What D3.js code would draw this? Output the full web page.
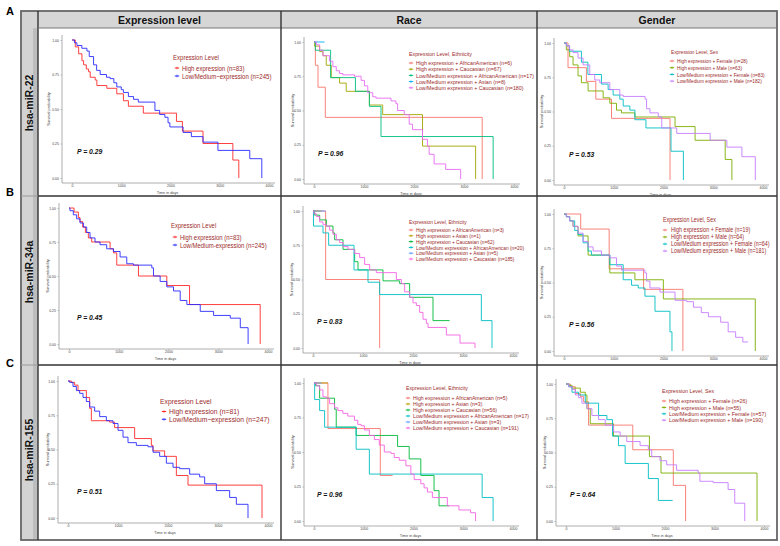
<!DOCTYPE html>
<html><head><meta charset="utf-8">
<script src="https://cdn.jsdelivr.net/npm/d3@7"></script>
<style>body{margin:0;background:#fff}svg{display:block}</style>
</head><body>
<script>
// ---------------- DATA ----------------
const colLabels = ["Expression level", "Race", "Gender"];
const rowLabels = ["hsa-miR-22", "hsa-miR-34a", "hsa-miR-155"];
const panelLetters = ["A", "B", "C"];
const yTicks = [0, 0.25, 0.5, 0.75, 1];
const xTicks = [0, 1000, 2000, 3000, 4000];
const legendTitles = ["Expression Level", "Expression Level, Ethnicity", "Expression Level, Sex"];
const pValues = [["0.29", "0.96", "0.53"], ["0.45", "0.83", "0.56"], ["0.51", "0.96", "0.64"]];

const a1Groups = ["High expression (n=83)", "Low/Medium\u2212expression (n=245)"];
const a2Groups = ["High expression + AfricanAmerican (n=6)", "High expression + Caucasian (n=67)", "Low/Medium expression + AfricanAmerican (n=17)", "Low/Medium expression + Asian (n=8)", "Low/Medium expression + Caucasian (n=180)"];
const a3Groups = ["High expression + Female (n=28)", "High expression + Male (n=63)", "Low/Medium expression + Female (n=83)", "Low/Medium expression + Male (n=182)"];
const b1Groups = ["High expression (n=83)", "Low/Medium-expression (n=245)"];
const b2Groups = ["High expression + AfricanAmerican (n=3)", "High expression + Asian (n=1)", "High expression + Caucasian (n=62)", "Low/Medium expression + AfricanAmerican (n=20)", "Low/Medium expression + Asian (n=5)", "Low/Medium expression + Caucasian (n=185)"];
const b3Groups = ["High expression + Female (n=19)", "High expression + Male (n=64)", "Low/Medium expression + Female (n=64)", "Low/Medium expression + Male (n=181)"];
const c1Groups = ["High expression (n=81)", "Low/Medium\u2212expression (n=247)"];
const c2Groups = ["High expression + AfricanAmerican (n=5)", "High expression + Asian (n=3)", "High expression + Caucasian (n=56)", "Low/Medium expression + AfricanAmerican (n=17)", "Low/Medium expression + Asian (n=3)", "Low/Medium expression + Caucasian (n=191)"];
const c3Groups = ["High expression + Female (n=26)", "High expression + Male (n=55)", "Low/Medium expression + Female (n=57)", "Low/Medium expression + Male (n=190)"];

// survival step curves: [time in days, survival probability]
const a1High = [[0,1],[67,0.95],[135,0.90],[202,0.85],[236,0.82],[290,0.79],[337,0.77],[370,0.73],[471,0.71],[505,0.67],[707,0.65],[909,0.61],[1044,0.56],[1145,0.52],[1448,0.47],[2121,0.41],[2242,0.34],[2660,0.25],[3266,0.13],[3387,0]];
const a1Low = [[0,1],[50,0.98],[100,0.96],[200,0.94],[303,0.92],[350,0.88],[438,0.82],[500,0.78],[572,0.75],[700,0.73],[774,0.72],[850,0.69],[909,0.66],[1000,0.64],[1044,0.62],[1145,0.59],[1250,0.57],[1347,0.55],[1684,0.49],[1780,0.46],[1886,0.44],[1950,0.40],[1987,0.37],[2256,0.33],[2424,0.30],[2660,0.26],[2963,0.20],[3610,0.14],[3854,0]];

const a2HighAA = [[0,1],[27,0.83],[80,0.67],[226,0.45],[3364,0]];
const a2HighCau = [[0,1],[13,0.97],[113,0.93],[179,0.90],[245,0.83],[345,0.74],[511,0.70],[644,0.64],[1108,0.54],[1374,0.47],[2170,0.24],[3232,0]];
const a2LowAA = [[0,1],[27,0.94],[332,0.74],[829,0.64],[1108,0.53],[1340,0.31],[3583,0]];
const a2LowAsian = [[0,1],[212,1]];
const a2LowCau = [[0,1],[46,0.98],[113,0.94],[179,0.90],[312,0.86],[378,0.82],[445,0.79],[511,0.77],[577,0.76],[810,0.75],[942,0.72],[1009,0.68],[1075,0.63],[1175,0.60],[1241,0.59],[1540,0.57],[1639,0.55],[1672,0.50],[1805,0.47],[1904,0.40],[1971,0.36],[2170,0.29],[2269,0.24],[2303,0.18],[2402,0.11],[2634,0.07],[2933,0]];

const a3HighF = [[0,1],[81,0.82],[450,0.72],[639,0.59],[955,0.45],[2131,0]];
const a3HighM = [[0,1],[47,0.95],[114,0.90],[182,0.84],[282,0.76],[350,0.71],[484,0.65],[787,0.60],[921,0.56],[1055,0.51],[1156,0.49],[1425,0.46],[2232,0.39],[2635,0.29],[3240,0.15],[3375,0]];
const a3LowF = [[0,1],[50,0.98],[110,0.94],[350,0.86],[480,0.77],[753,0.70],[887,0.66],[988,0.62],[1122,0.59],[1190,0.54],[1324,0.51],[1425,0.44],[1647,0.38],[2151,0.21],[2400,0]];
const a3LowM = [[0,1],[47,0.98],[114,0.95],[182,0.93],[282,0.89],[383,0.84],[518,0.77],[618,0.73],[719,0.71],[921,0.66],[1122,0.62],[1190,0.61],[1630,0.59],[1660,0.52],[1728,0.49],[1895,0.46],[1965,0.38],[2266,0.34],[2938,0.29],[3274,0.24],[3576,0.17],[3845,0]];

const b1High = [[0,1],[101,0.97],[188,0.93],[221,0.90],[275,0.86],[330,0.82],[389,0.78],[456,0.75],[826,0.70],[893,0.67],[960,0.58],[1396,0.50],[1966,0.43],[2423,0.29],[3843,0]];
const b1Low = [[0,1],[20,0.98],[87,0.95],[154,0.92],[221,0.89],[289,0.86],[356,0.82],[423,0.78],[523,0.75],[624,0.73],[758,0.70],[893,0.68],[1027,0.64],[1161,0.59],[1295,0.58],[1664,0.56],[1698,0.50],[1832,0.46],[1966,0.42],[2101,0.39],[2235,0.32],[2369,0.29],[2638,0.24],[2906,0.21],[3242,0.19],[3443,0.12],[3600,0]];

const b2HighAA = [[0,1],[253,0.50],[1333,0]];
const b2HighAsian = [[0,1],[167,1]];
const b2HighCau = [[0,1],[33,0.97],[133,0.935],[267,0.89],[400,0.84],[433,0.79],[600,0.72],[833,0.63],[900,0.57],[1400,0.49],[1733,0.47],[1933,0.37],[2400,0.20],[2733,0.20]];
const b2LowAA = [[0,1],[10,0.89],[200,0.84],[313,0.75],[820,0.57],[1100,0.48],[1333,0.39],[3367,0.20],[3580,0]];
const b2LowAsian = [[0,1],[250,1]];
const b2LowCau = [[0,1],[20,0.98],[67,0.96],[133,0.92],[200,0.90],[267,0.89],[333,0.86],[400,0.83],[467,0.79],[533,0.77],[600,0.74],[700,0.72],[833,0.69],[933,0.66],[1033,0.61],[1133,0.57],[1267,0.55],[1667,0.50],[1767,0.47],[1833,0.41],[1933,0.37],[2000,0.33],[2067,0.31],[2133,0.26],[2200,0.21],[2267,0.18],[2300,0.15],[2667,0.095],[2940,0.036],[3240,0]];

const b3HighF = [[0,1],[336,0.89],[908,0.60],[1600,0.45],[2390,0]];
const b3HighM = [[0,1],[47,0.98],[114,0.95],[182,0.91],[282,0.84],[484,0.70],[921,0.57],[1425,0.52],[1997,0.38],[3845,0]];
const b3LowF = [[0,1],[47,0.98],[114,0.95],[215,0.88],[282,0.85],[383,0.79],[484,0.73],[551,0.70],[921,0.63],[1190,0.52],[1358,0.48],[1492,0.46],[1627,0.40],[1829,0.29],[2130,0.14],[2170,0]];
const b3LowM = [[0,1],[47,0.98],[114,0.95],[182,0.91],[282,0.86],[383,0.80],[484,0.76],[585,0.73],[753,0.70],[921,0.68],[1055,0.62],[1156,0.59],[1627,0.57],[1660,0.51],[1728,0.46],[1929,0.43],[2232,0.37],[2467,0.36],[2602,0.32],[2760,0.28],[2903,0.25],[3150,0.21],[3300,0.14],[3450,0.10],[3594,0.066],[3700,0.066]];

const c1High = [[0,1],[67,0.99],[133,0.97],[200,0.93],[367,0.88],[433,0.80],[467,0.71],[833,0.70],[933,0.66],[1333,0.58],[1667,0.53],[1700,0.49],[1933,0.45],[2167,0.31],[2400,0.24],[3880,0]];
const c1Low = [[0,1],[33,0.99],[100,0.96],[167,0.93],[233,0.91],[300,0.88],[367,0.85],[433,0.81],[533,0.78],[633,0.74],[767,0.71],[900,0.69],[1000,0.64],[1100,0.59],[1200,0.55],[1367,0.53],[1600,0.52],[1700,0.48],[1833,0.45],[1967,0.40],[2100,0.37],[2233,0.36],[2433,0.32],[2633,0.30],[2733,0.25],[2967,0.20],[3233,0.15],[3367,0.10],[3600,0]];

const c2HighAA = [[0,1],[280,0.67],[1333,0.33],[1580,0.33]];
const c2HighAsian = [[0,1],[280,1]];
const c2HighCau = [[0,1],[33,0.98],[113,0.89],[413,0.81],[447,0.68],[847,0.62],[1680,0.54],[1913,0.45],[2147,0.33],[2413,0.22],[2513,0.11],[2713,0.11]];
const c2LowAA = [[0,1],[13,0.88],[113,0.80],[213,0.68],[847,0.52],[1113,0.34],[3380,0.17],[3600,0]];
const c2LowAsian = [[0,1],[150,1]];
const c2LowCau = [[0,1],[47,0.98],[113,0.95],[180,0.90],[247,0.89],[313,0.85],[413,0.82],[480,0.80],[580,0.78],[680,0.76],[813,0.73],[880,0.70],[947,0.69],[1013,0.66],[1113,0.62],[1213,0.59],[1313,0.55],[1413,0.50],[1547,0.49],[1613,0.46],[1713,0.44],[1847,0.40],[1947,0.34],[2013,0.30],[2147,0.27],[2213,0.24],[2280,0.21],[2380,0.17],[2680,0.11],[2913,0.08],[3147,0.06],[3247,0]];

const c3HighF = [[0,1],[87,0.98],[188,0.93],[289,0.91],[356,0.87],[456,0.70],[1349,0.52],[2168,0.26],[2416,0]];
const c3HighM = [[0,1],[54,0.99],[121,0.97],[289,0.94],[389,0.92],[423,0.82],[490,0.71],[960,0.62],[1685,0.47],[1919,0.35],[3859,0]];
const c3LowF = [[0,1],[54,0.98],[121,0.94],[255,0.92],[389,0.86],[658,0.77],[826,0.74],[940,0.62],[1060,0.55],[1195,0.42],[1664,0.31],[1866,0.15],[2154,0.15]];
const c3LowM = [[0,1],[54,0.98],[121,0.96],[188,0.92],[255,0.90],[322,0.86],[423,0.82],[523,0.77],[658,0.74],[792,0.70],[960,0.65],[1094,0.62],[1228,0.58],[1497,0.55],[1664,0.52],[1732,0.47],[1899,0.44],[2034,0.41],[2235,0.37],[2671,0.35],[2705,0.29],[2973,0.28],[3275,0.23],[3409,0.13],[3611,0]];

// ---------------- STYLE / LAYOUT ----------------
const pal2 = ["#ff2b2b", "#2b2bff"];
const pal4 = ["#F8766D", "#7CAE00", "#00BFC4", "#C77CFF"];
const pal5 = ["#F8766D", "#A3A500", "#00BF7D", "#00B0F6", "#E76BF3"];
const pal6 = ["#F8766D", "#B79F00", "#00BA38", "#00BFC4", "#619CFF", "#F564E3"];
const FONT = "'Liberation Sans', Arial, sans-serif";
const colX = [38, 281, 537, 777];
const rowY = [28, 196, 365, 540];
const headTop = 11, stripLeft = 21;
const stripCenters = [103, 272, 450];
const letterY = [11, 192, 363];

const panels = [
  {r:0,c:0,curves:[a1High,a1Low],groups:a1Groups,pal:pal2,geo:{x0:72,x4:269,y1:40,y0:178},lg:{tx:173,ty:57,iy:68,dy:8,mx:177,x:182,fs:7.1,sx:0.85},py:151,px:77,ax:50},
  {r:0,c:1,curves:[a2HighAA,a2HighCau,a2LowAA,a2LowAsian,a2LowCau],groups:a2Groups,pal:pal5,geo:{x0:314,x4:514,y1:42,y0:179},lg:{tx:409,ty:54,iy:63,dy:6.2,mx:411,x:416,fs:6.2,sx:0.85},py:153,px:318,ax:294},
  {r:0,c:2,curves:[a3HighF,a3HighM,a3LowF,a3LowM],groups:a3Groups,pal:pal4,geo:{x0:564,x4:763,y1:43,y0:180},lg:{tx:671,ty:52,iy:61,dy:6.7,mx:672,x:677,fs:5.6,sx:0.85},py:154,px:569,ax:543},
  {r:1,c:0,curves:[b1High,b1Low],groups:b1Groups,pal:pal2,geo:{x0:69,x4:268,y1:208,y0:344},lg:{tx:171,ty:225,iy:237,dy:8,mx:175,x:180,fs:7.0,sx:0.85},py:317,px:77,ax:49},
  {r:1,c:1,curves:[b2HighAA,b2HighAsian,b2HighCau,b2LowAA,b2LowAsian,b2LowCau],groups:b2Groups,pal:pal6,geo:{x0:313,x4:513,y1:211,y0:348},lg:{tx:409,ty:222,iy:230,dy:5.8,mx:411,x:416,fs:5.7,sx:0.85},py:321,px:317,ax:293},
  {r:1,c:2,curves:[b3HighF,b3HighM,b3LowF,b3LowM],groups:b3Groups,pal:pal4,geo:{x0:564,x4:763,y1:214,y0:351},lg:{tx:663,ty:220,iy:230,dy:7,mx:665,x:671,fs:6.3,sx:0.85},py:324,px:569,ax:543},
  {r:2,c:0,curves:[c1High,c1Low],groups:c1Groups,pal:pal2,geo:{x0:68,x4:268,y1:381,y0:518},lg:{tx:160,ty:401,iy:411.5,dy:7.8,mx:164,x:169,fs:7.3,sx:0.93},py:491,px:77,ax:49},
  {r:2,c:1,curves:[c2HighAA,c2HighAsian,c2HighCau,c2LowAA,c2LowAsian,c2LowCau],groups:c2Groups,pal:pal6,geo:{x0:314,x4:513,y1:383,y0:521},lg:{tx:406,ty:388,iy:398,dy:6,mx:408,x:413,fs:6.1,sx:0.85},py:494,px:317,ax:294},
  {r:2,c:2,curves:[c3HighF,c3HighM,c3LowF,c3LowM],groups:c3Groups,pal:pal4,geo:{x0:566,x4:764,y1:384,y0:521},lg:{tx:662,ty:391,iy:401,dy:6.4,mx:664,x:669,fs:6.2,sx:0.85},py:494,px:570,ax:546}
];

// ---------------- DRAW ----------------
const svg = d3.select("body").append("svg").attr("width", 780).attr("height", 546)
  .style("font-family", FONT);
const defs = svg.append("defs");

svg.append("rect").attr("x", stripLeft).attr("y", headTop).attr("width", colX[3] - stripLeft).attr("height", rowY[0] - headTop).attr("fill", "#d6d6d6");
svg.append("rect").attr("x", stripLeft).attr("y", headTop).attr("width", colX[0] - stripLeft).attr("height", rowY[3] - headTop).attr("fill", "#d3d3d3");
svg.append("rect").attr("x", colX[0] - 5).attr("y", rowY[0]).attr("width", 5).attr("height", rowY[3] - rowY[0]).attr("fill", "#bdbdbd");

colLabels.forEach((t, i) => {
  svg.append("text").attr("x", (colX[i] + colX[i + 1]) / 2).attr("y", (headTop + rowY[0]) / 2 + 0.5)
    .attr("text-anchor", "middle").attr("dominant-baseline", "central")
    .attr("font-size", 10.5).attr("font-weight", "bold").attr("fill", "#111").text(t);
});
rowLabels.forEach((t, i) => {
  svg.append("text").attr("transform", `translate(${(stripLeft + colX[0]) / 2 - 1},${stripCenters[i]}) rotate(-90)`)
    .attr("text-anchor", "middle").attr("dominant-baseline", "central")
    .attr("font-size", 10.5).attr("font-weight", "bold").attr("fill", "#111").text(t);
});
panelLetters.forEach((t, i) => {
  svg.append("text").attr("x", 10).attr("y", letterY[i]).attr("text-anchor", "middle")
    .attr("dominant-baseline", "central").attr("font-size", 11).attr("font-weight", "bold").text(t);
});

svg.append("rect").attr("x", stripLeft).attr("y", headTop).attr("width", colX[3] - stripLeft).attr("height", rowY[3] - headTop)
  .attr("fill", "none").attr("stroke", "#666").attr("stroke-width", 1.8);
svg.append("line").attr("x1", colX[0]).attr("x2", colX[0]).attr("y1", headTop).attr("y2", rowY[3]).attr("stroke", "#333").attr("stroke-width", 1.4);
svg.append("line").attr("x1", colX[0]).attr("x2", colX[3]).attr("y1", rowY[0]).attr("y2", rowY[0]).attr("stroke", "#777").attr("stroke-width", 1);
[1, 2].forEach(i => {
  svg.append("line").attr("x1", colX[i]).attr("x2", colX[i]).attr("y1", headTop).attr("y2", rowY[3]).attr("stroke", "#333").attr("stroke-width", 1.4);
  svg.append("line").attr("x1", colX[0]).attr("x2", colX[3]).attr("y1", rowY[i]).attr("y2", rowY[i]).attr("stroke", "#333").attr("stroke-width", 1.4);
  svg.append("line").attr("x1", stripLeft).attr("x2", colX[0]).attr("y1", rowY[i]).attr("y2", rowY[i]).attr("stroke", "#999").attr("stroke-width", 1);
});

const legendColor = "#9b2a2a";
const line = d3.line().curve(d3.curveStepAfter);

panels.forEach((p, k) => {
  const g = p.geo;
  const x = d3.scaleLinear().domain([0, 4000]).range([g.x0, g.x4]);
  const y = d3.scaleLinear().domain([0, 1]).range([g.y0, g.y1]);
  const cellX = colX[p.c], cellY = rowY[p.r], cellW = colX[p.c + 1] - colX[p.c], cellH = rowY[p.r + 1] - rowY[p.r];
  defs.append("clipPath").attr("id", "clip" + k).append("rect")
    .attr("x", cellX + 1).attr("y", cellY + 1).attr("width", cellW - 2).attr("height", cellH - 2);
  const pg = svg.append("g").attr("clip-path", `url(#clip${k})`);

  const axX = g.x0 - 10, axY = g.y0 + 5;
  pg.append("line").attr("x1", axX).attr("x2", axX).attr("y1", g.y1 - 5).attr("y2", axY).attr("stroke", "#9a9a9a").attr("stroke-width", 0.8);
  pg.append("line").attr("x1", axX).attr("x2", g.x4 + 6).attr("y1", axY).attr("y2", axY).attr("stroke", "#9a9a9a").attr("stroke-width", 0.8);

  const yAxis = pg.append("g").attr("transform", `translate(${axX},0)`)
    .call(d3.axisLeft(y).tickValues(yTicks).tickFormat(d3.format(".2f")).tickSize(1.5).tickPadding(1.5));
  const xAxis = pg.append("g").attr("transform", `translate(0,${axY})`)
    .call(d3.axisBottom(x).tickValues(xTicks).tickFormat(d3.format("d")).tickSize(1.2).tickPadding(0.8));
  [yAxis, xAxis].forEach(a => {
    a.select(".domain").remove();
    a.selectAll("line").attr("stroke", "#9a9a9a").attr("stroke-width", 0.6);
    a.selectAll("text").attr("font-size", 3.5).attr("fill", "#444").style("font-family", FONT);
  });

  pg.append("text").attr("x", (g.x0 + g.x4) / 2 - 3).attr("y", axY + 10.5).attr("text-anchor", "middle")
    .attr("font-size", 3.8).attr("fill", "#444").text("Time in days");
  pg.append("text").attr("transform", `translate(${p.ax},${(g.y0 + g.y1) / 2}) rotate(-90)`).attr("text-anchor", "middle")
    .attr("font-size", 4).attr("fill", "#444").text("Survival probability");

  p.curves.forEach((d, i) => {
    pg.append("path").datum(d).attr("d", line.x(v => x(v[0])).y(v => y(v[1])))
      .attr("fill", "none").attr("stroke", p.pal[i]).attr("stroke-width", 1).attr("stroke-opacity", 0.9);
  });

  pg.append("text").attr("x", p.px).attr("y", p.py).attr("dominant-baseline", "central")
    .attr("font-size", 6.8).attr("font-weight", "bold").attr("font-style", "italic").attr("fill", "#111")
    .text("P = " + pValues[p.r][p.c]);

  const L = p.lg;
  pg.append("text").attr("transform", `translate(${L.tx},${L.ty}) scale(${L.sx},1)`).attr("dominant-baseline", "central")
    .attr("font-size", L.fs).attr("fill", legendColor).text(legendTitles[p.c]);
  p.groups.forEach((t, i) => {
    const yy = L.iy + i * L.dy;
    pg.append("line").attr("x1", L.mx - 2.2).attr("x2", L.mx + 2.2).attr("y1", yy).attr("y2", yy)
      .attr("stroke", p.pal[i]).attr("stroke-width", 1);
    pg.append("line").attr("x1", L.mx).attr("x2", L.mx).attr("y1", yy - 1.3).attr("y2", yy + 1.3)
      .attr("stroke", p.pal[i]).attr("stroke-width", 0.7);
    pg.append("text").attr("transform", `translate(${L.x},${yy}) scale(${L.sx},1)`).attr("dominant-baseline", "central")
      .attr("font-size", L.fs).attr("fill", legendColor).text(t);
  });
});
</script>
</body></html>
